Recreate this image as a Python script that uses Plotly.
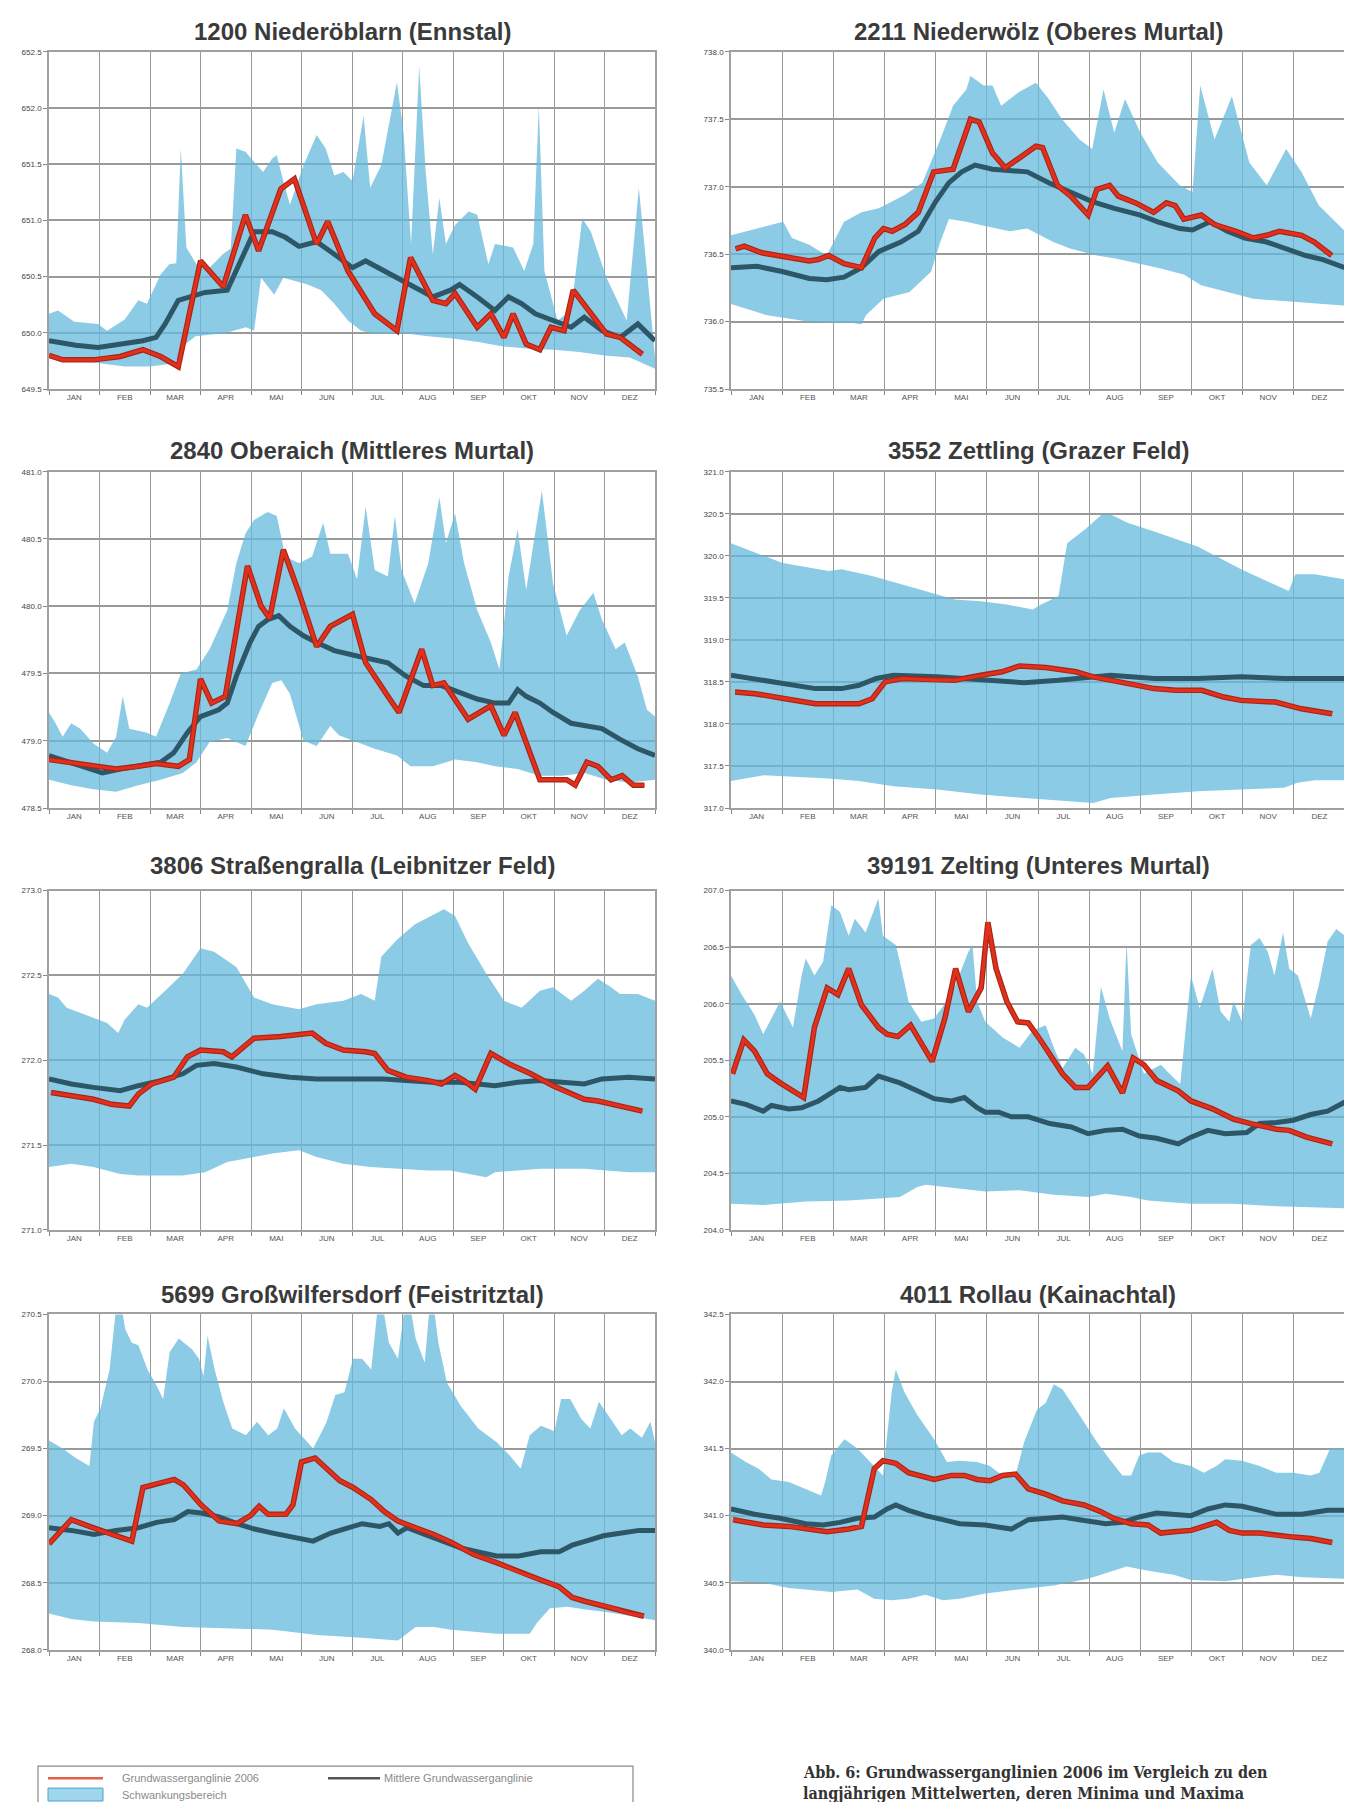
import plotly.graph_objects as go

W, H = 1352, 1802

MONTHS = ["JAN", "FEB", "MAR", "APR", "MAI", "JUN", "JUL", "AUG", "SEP", "OKT", "NOV", "DEZ"]

TITLES = [
    "1200 Niederöblarn (Ennstal)",
    "2211 Niederwölz (Oberes Murtal)",
    "2840 Oberaich (Mittleres Murtal)",
    "3552 Zettling (Grazer Feld)",
    "3806 Straßengralla (Leibnitzer Feld)",
    "39191 Zelting (Unteres Murtal)",
    "5699 Großwilfersdorf (Feistritztal)",
    "4011 Rollau (Kainachtal)",
]

Y_RANGES = [
    (649.5, 652.5), (735.5, 738.0), (478.5, 481.0), (317.0, 321.0),
    (271.0, 273.0), (204.0, 207.0), (268.0, 270.5), (340.0, 342.5),
]

# x values are in months (0 = 1 Jan, 12 = 31 Dec)
# ---------------- 1200 Niederöblarn ----------------
P1_MAX_X = [0, 0.18, 0.5, 0.97, 1.15, 1.5, 1.77, 1.94, 2.21, 2.38, 2.52, 2.61, 2.72, 2.92, 3.18, 3.44, 3.6, 3.71, 3.89, 4.06, 4.24, 4.42, 4.51, 4.64, 4.77, 5.04, 5.3, 5.48, 5.65, 5.83, 6.01, 6.23, 6.36, 6.58, 6.8, 6.89, 7.02, 7.17, 7.33, 7.46, 7.6, 7.73, 7.86, 8.04, 8.31, 8.48, 8.7, 8.83, 9.19, 9.41, 9.59, 9.7, 9.81, 10.07, 10.34, 10.56, 10.73, 11.04, 11.44, 11.68, 11.84, 12]
P1_MAX = [650.17, 650.20, 650.10, 650.08, 650.02, 650.12, 650.29, 650.26, 650.52, 650.61, 650.62, 651.64, 650.76, 650.61, 650.58, 650.70, 650.75, 651.64, 651.61, 651.52, 651.43, 651.55, 651.58, 651.35, 651.14, 651.49, 651.76, 651.64, 651.40, 651.43, 651.35, 651.93, 651.29, 651.49, 652.02, 652.23, 651.79, 650.79, 652.37, 651.43, 650.70, 651.20, 650.79, 650.96, 651.08, 651.05, 650.61, 650.79, 650.76, 650.55, 650.79, 652.02, 650.55, 650.11, 650.20, 651.02, 650.90, 650.49, 650.11, 651.29, 650.55, 649.78]
P1_MIN_X = [0, 0.5, 1.0, 1.5, 2.0, 2.5, 2.7, 2.9, 3.5, 3.9, 4.06, 4.2, 4.46, 4.64, 4.86, 5.12, 5.39, 5.65, 5.92, 6.18, 6.45, 7.0, 7.5, 8.0, 8.5, 9.0, 9.5, 10.0, 10.5, 11.0, 11.5, 12]
P1_MIN = [649.79, 649.76, 649.73, 649.70, 649.70, 649.73, 649.90, 649.97, 650.00, 650.05, 650.02, 650.49, 650.34, 650.49, 650.46, 650.43, 650.38, 650.26, 650.11, 650.02, 649.99, 650.00, 649.97, 649.95, 649.92, 649.88, 649.86, 649.85, 649.83, 649.80, 649.78, 649.68]
P1_MEAN_X = [0, 0.53, 0.97, 1.41, 1.86, 2.12, 2.3, 2.56, 2.83, 3.09, 3.53, 3.89, 4.06, 4.42, 4.68, 4.95, 5.3, 5.65, 6.01, 6.27, 6.63, 6.89, 7.24, 7.6, 7.95, 8.13, 8.48, 8.83, 9.1, 9.36, 9.63, 9.81, 10.07, 10.34, 10.6, 10.95, 11.31, 11.66, 12]
P1_MEAN = [649.93, 649.89, 649.87, 649.90, 649.93, 649.96, 650.08, 650.29, 650.32, 650.36, 650.38, 650.73, 650.90, 650.90, 650.85, 650.77, 650.81, 650.70, 650.58, 650.64, 650.55, 650.49, 650.41, 650.32, 650.38, 650.43, 650.32, 650.20, 650.32, 650.26, 650.17, 650.14, 650.10, 650.05, 650.14, 650.02, 649.96, 650.08, 649.93]
P1_2006_X = [0, 0.27, 0.88, 1.41, 1.86, 2.21, 2.56, 3.0, 3.45, 3.89, 4.15, 4.59, 4.86, 5.3, 5.52, 5.92, 6.45, 6.89, 7.16, 7.6, 7.86, 8.04, 8.48, 8.75, 9.01, 9.19, 9.45, 9.72, 9.94, 10.2, 10.38, 10.69, 11.04, 11.31, 11.75]
P1_2006 = [649.80, 649.76, 649.76, 649.79, 649.85, 649.79, 649.70, 650.64, 650.41, 651.05, 650.73, 651.28, 651.37, 650.79, 650.99, 650.55, 650.17, 650.02, 650.67, 650.29, 650.26, 650.35, 650.05, 650.17, 649.96, 650.17, 649.90, 649.85, 650.05, 650.02, 650.38, 650.20, 649.99, 649.96, 649.81]

# ---------------- 2211 Niederwölz ----------------
P2_MAX_X = [0, 1.02, 1.19, 1.53, 1.87, 2.04, 2.21, 2.55, 2.89, 3.4, 3.74, 4.09, 4.34, 4.6, 4.68, 4.94, 5.11, 5.28, 5.62, 5.96, 6.21, 6.47, 6.81, 7.06, 7.28, 7.49, 7.7, 8.0, 8.34, 8.77, 9.02, 9.17, 9.45, 9.79, 10.13, 10.47, 10.85, 11.15, 11.49, 12]
P2_MAX = [736.64, 736.74, 736.62, 736.57, 736.49, 736.62, 736.74, 736.81, 736.84, 736.94, 737.03, 737.35, 737.60, 737.72, 737.82, 737.75, 737.75, 737.60, 737.70, 737.77, 737.65, 737.50, 737.35, 737.28, 737.72, 737.40, 737.65, 737.40, 737.18, 737.01, 736.96, 737.75, 737.35, 737.67, 737.18, 737.01, 737.28, 737.11, 736.86, 736.67]
P2_MIN_X = [0, 0.68, 1.53, 2.38, 2.55, 2.64, 2.98, 3.49, 3.91, 4.09, 4.26, 4.6, 4.94, 5.45, 5.79, 6.3, 6.64, 7.15, 7.49, 8.34, 8.85, 9.19, 9.7, 10.21, 10.89, 11.57, 12]
P2_MIN = [736.13, 736.05, 736.00, 735.99, 735.98, 736.05, 736.17, 736.22, 736.37, 736.59, 736.76, 736.74, 736.71, 736.67, 736.69, 736.59, 736.54, 736.49, 736.47, 736.40, 736.35, 736.27, 736.22, 736.17, 736.15, 736.13, 736.12]
P2_MEAN_X = [0, 0.51, 1.02, 1.53, 1.87, 2.21, 2.55, 2.89, 3.32, 3.66, 4.0, 4.26, 4.51, 4.77, 5.11, 5.62, 5.79, 6.21, 6.64, 7.06, 7.49, 8.0, 8.34, 8.77, 9.02, 9.36, 9.7, 10.04, 10.47, 10.89, 11.23, 11.57, 12]
P2_MEAN = [736.40, 736.41, 736.37, 736.32, 736.31, 736.33, 736.40, 736.52, 736.59, 736.67, 736.89, 737.03, 737.11, 737.16, 737.13, 737.12, 737.11, 737.03, 736.96, 736.89, 736.84, 736.79, 736.74, 736.69, 736.68, 736.74, 736.67, 736.62, 736.59, 736.54, 736.49, 736.46, 736.40]
P2_2006_X = [0.09, 0.26, 0.6, 1.53, 1.7, 1.91, 2.21, 2.55, 2.81, 2.98, 3.15, 3.4, 3.66, 3.96, 4.34, 4.68, 4.85, 5.11, 5.36, 5.7, 5.96, 6.09, 6.38, 6.64, 6.98, 7.15, 7.4, 7.57, 7.91, 8.26, 8.51, 8.68, 8.85, 9.19, 9.45, 9.87, 10.21, 10.47, 10.72, 11.15, 11.4, 11.74]
P2_2006 = [736.54, 736.56, 736.51, 736.45, 736.46, 736.49, 736.43, 736.40, 736.62, 736.69, 736.67, 736.72, 736.81, 737.11, 737.13, 737.50, 737.48, 737.25, 737.14, 737.23, 737.30, 737.29, 737.01, 736.93, 736.79, 736.98, 737.01, 736.93, 736.88, 736.81, 736.88, 736.86, 736.76, 736.79, 736.72, 736.67, 736.62, 736.64, 736.67, 736.64, 736.59, 736.49]

# ---------------- 2840 Oberaich ----------------
P3_MAX_X = [0, 0.13, 0.27, 0.44, 0.62, 0.88, 1.15, 1.33, 1.46, 1.59, 1.94, 2.12, 2.39, 2.61, 2.92, 3.18, 3.53, 3.71, 3.89, 4.06, 4.33, 4.51, 4.68, 4.95, 5.21, 5.43, 5.57, 5.92, 6.1, 6.27, 6.45, 6.71, 6.85, 6.98, 7.24, 7.51, 7.73, 7.86, 8.04, 8.22, 8.48, 8.75, 8.92, 9.1, 9.28, 9.45, 9.76, 9.98, 10.25, 10.51, 10.78, 10.95, 11.22, 11.4, 11.66, 11.84, 12]
P3_MAX = [479.21, 479.13, 479.03, 479.13, 479.09, 478.98, 478.91, 479.03, 479.33, 479.09, 479.06, 479.03, 479.28, 479.50, 479.53, 479.68, 479.97, 480.32, 480.54, 480.64, 480.70, 480.67, 480.37, 480.32, 480.37, 480.62, 480.39, 480.39, 480.20, 480.74, 480.27, 480.22, 480.67, 480.27, 480.02, 480.32, 480.81, 480.47, 480.69, 480.32, 479.97, 479.73, 479.53, 480.22, 480.57, 480.12, 480.86, 480.17, 479.78, 479.97, 480.10, 479.90, 479.68, 479.73, 479.48, 479.23, 479.18]
P3_MIN_X = [0, 0.44, 0.88, 1.33, 1.77, 2.21, 2.65, 2.92, 3.18, 3.53, 3.89, 4.15, 4.42, 4.6, 4.77, 5.04, 5.3, 5.57, 5.74, 6.1, 6.45, 6.89, 7.16, 7.6, 8.04, 8.48, 8.83, 9.28, 9.72, 10.16, 10.6, 11.04, 11.49, 12]
P3_MIN = [478.71, 478.67, 478.64, 478.62, 478.67, 478.71, 478.76, 478.84, 478.99, 479.02, 478.96, 479.20, 479.43, 479.45, 479.35, 479.00, 478.96, 479.11, 479.04, 478.99, 478.94, 478.89, 478.81, 478.81, 478.86, 478.84, 478.81, 478.79, 478.74, 478.74, 478.76, 478.71, 478.69, 478.71]
P3_MEAN_X = [0, 0.44, 0.88, 1.06, 1.41, 1.77, 2.21, 2.47, 2.74, 3.0, 3.36, 3.53, 3.71, 3.98, 4.15, 4.33, 4.55, 4.77, 5.04, 5.3, 5.65, 6.1, 6.45, 6.71, 7.07, 7.42, 7.77, 8.13, 8.48, 8.83, 9.1, 9.28, 9.45, 9.72, 9.98, 10.34, 10.69, 10.95, 11.31, 11.66, 12]
P3_MEAN = [478.89, 478.84, 478.79, 478.76, 478.79, 478.81, 478.84, 478.91, 479.06, 479.18, 479.23, 479.28, 479.48, 479.73, 479.85, 479.90, 479.93, 479.85, 479.78, 479.73, 479.67, 479.63, 479.60, 479.58, 479.48, 479.41, 479.41, 479.36, 479.31, 479.28, 479.28, 479.38, 479.33, 479.28, 479.21, 479.13, 479.11, 479.09, 479.01, 478.94, 478.89]
P3_2006_X = [0, 0.88, 1.33, 1.77, 2.12, 2.56, 2.78, 3.0, 3.22, 3.49, 3.93, 4.2, 4.37, 4.64, 4.95, 5.3, 5.57, 6.01, 6.27, 6.71, 6.93, 7.38, 7.6, 7.82, 8.3, 8.75, 9.01, 9.23, 9.72, 10.25, 10.42, 10.65, 10.87, 11.13, 11.35, 11.57, 11.79]
P3_2006 = [478.86, 478.81, 478.79, 478.81, 478.83, 478.81, 478.86, 479.46, 479.28, 479.33, 480.30, 480.00, 479.91, 480.42, 480.10, 479.70, 479.85, 479.94, 479.58, 479.33, 479.21, 479.68, 479.41, 479.43, 479.16, 479.26, 479.04, 479.21, 478.71, 478.71, 478.67, 478.84, 478.81, 478.71, 478.74, 478.67, 478.67]

# ---------------- 3552 Zettling ----------------
P4_MAX_X = [0, 0.98, 1.15, 1.91, 2.16, 2.76, 3.69, 4.37, 4.88, 5.39, 5.9, 6.06, 6.4, 6.57, 6.91, 7.25, 7.42, 7.76, 8.27, 9.12, 9.97, 10.9, 11.03, 11.41, 12]
P4_MAX = [320.15, 319.92, 319.90, 319.82, 319.84, 319.76, 319.60, 319.48, 319.46, 319.42, 319.36, 319.42, 319.52, 320.15, 320.31, 320.49, 320.49, 320.39, 320.29, 320.11, 319.84, 319.58, 319.78, 319.78, 319.72]
P4_MIN_X = [0, 0.64, 1.15, 1.91, 2.5, 3.18, 4.03, 4.88, 5.73, 6.57, 7.08, 7.42, 8.27, 9.12, 9.97, 10.81, 11.07, 11.41, 12]
P4_MIN = [317.32, 317.39, 317.37, 317.35, 317.32, 317.26, 317.22, 317.16, 317.12, 317.08, 317.06, 317.12, 317.16, 317.20, 317.22, 317.24, 317.30, 317.33, 317.33]
P4_MEAN_X = [0, 0.64, 1.15, 1.65, 2.16, 2.5, 2.84, 3.18, 4.03, 4.88, 5.73, 6.4, 7.08, 7.42, 8.27, 9.12, 9.97, 10.81, 12]
P4_MEAN = [318.58, 318.52, 318.48, 318.42, 318.42, 318.46, 318.54, 318.58, 318.56, 318.52, 318.49, 318.52, 318.56, 318.58, 318.54, 318.54, 318.56, 318.54, 318.54]
P4_2006_X = [0.08, 0.47, 1.06, 1.65, 2.16, 2.5, 2.76, 3.01, 3.35, 4.03, 4.37, 4.88, 5.3, 5.64, 6.15, 6.74, 7.08, 7.59, 8.27, 8.69, 9.2, 9.63, 9.97, 10.64, 11.15, 11.75]
P4_2006 = [318.38, 318.36, 318.30, 318.24, 318.24, 318.24, 318.30, 318.50, 318.54, 318.52, 318.52, 318.58, 318.62, 318.69, 318.67, 318.62, 318.56, 318.50, 318.42, 318.40, 318.40, 318.32, 318.28, 318.26, 318.18, 318.12]

# ---------------- 3806 Straßengralla ----------------
P5_MAX_X = [0, 0.18, 0.35, 0.88, 1.15, 1.37, 1.5, 1.77, 1.94, 2.3, 2.65, 3.0, 3.27, 3.71, 4.06, 4.42, 4.95, 5.3, 5.83, 6.18, 6.45, 6.58, 6.89, 7.24, 7.51, 7.82, 8.04, 8.3, 8.66, 9.01, 9.36, 9.72, 9.98, 10.34, 10.6, 10.87, 11.13, 11.31, 11.66, 12]
P5_MAX = [272.39, 272.37, 272.31, 272.25, 272.22, 272.16, 272.24, 272.33, 272.31, 272.41, 272.51, 272.66, 272.64, 272.55, 272.37, 272.33, 272.30, 272.33, 272.35, 272.39, 272.35, 272.61, 272.71, 272.80, 272.84, 272.89, 272.85, 272.69, 272.51, 272.35, 272.31, 272.41, 272.43, 272.35, 272.41, 272.48, 272.43, 272.39, 272.39, 272.35]
P5_MIN_X = [0, 0.44, 0.88, 1.41, 1.77, 2.65, 3.09, 3.53, 4.06, 4.42, 4.95, 5.3, 5.83, 6.36, 6.89, 7.51, 7.95, 8.48, 8.66, 8.83, 9.28, 9.72, 10.6, 11.48, 12]
P5_MIN = [271.37, 271.39, 271.37, 271.33, 271.32, 271.32, 271.34, 271.40, 271.43, 271.45, 271.47, 271.43, 271.39, 271.37, 271.36, 271.35, 271.35, 271.32, 271.31, 271.34, 271.35, 271.36, 271.36, 271.34, 271.34]
P5_MEAN_X = [0, 0.44, 0.88, 1.41, 1.77, 2.21, 2.65, 2.92, 3.27, 3.71, 4.24, 4.77, 5.3, 6.01, 6.63, 7.07, 7.6, 8.13, 8.48, 8.83, 9.28, 9.72, 10.16, 10.6, 10.95, 11.48, 12]
P5_MEAN = [271.89, 271.86, 271.84, 271.82, 271.85, 271.88, 271.92, 271.97, 271.98, 271.96, 271.92, 271.90, 271.89, 271.89, 271.89, 271.88, 271.87, 271.87, 271.86, 271.85, 271.87, 271.88, 271.87, 271.86, 271.89, 271.90, 271.89]
P5_2006_X = [0.04, 0.27, 0.88, 1.24, 1.59, 1.77, 2.03, 2.47, 2.74, 3.0, 3.45, 3.62, 4.06, 4.59, 5.21, 5.48, 5.83, 6.27, 6.45, 6.71, 7.07, 7.51, 7.77, 8.04, 8.22, 8.44, 8.75, 9.1, 9.54, 9.98, 10.34, 10.6, 10.87, 11.31, 11.75]
P5_2006 = [271.81, 271.80, 271.77, 271.74, 271.73, 271.80, 271.86, 271.90, 272.02, 272.06, 272.05, 272.02, 272.13, 272.14, 272.16, 272.10, 272.06, 272.05, 272.04, 271.94, 271.90, 271.88, 271.86, 271.91, 271.88, 271.83, 272.04, 271.98, 271.92, 271.85, 271.80, 271.77, 271.76, 271.73, 271.70]

# ---------------- 39191 Zelting ----------------
P6_MAX_X = [0, 0.21, 0.38, 0.46, 0.63, 0.75, 0.96, 1.21, 1.38, 1.46, 1.63, 1.8, 1.96, 2.13, 2.3, 2.42, 2.63, 2.88, 2.97, 3.22, 3.3, 3.47, 3.72, 3.97, 4.31, 4.64, 4.72, 4.81, 4.97, 5.31, 5.64, 5.89, 6.15, 6.31, 6.48, 6.73, 6.9, 7.07, 7.23, 7.4, 7.65, 7.73, 7.82, 8.07, 8.4, 8.57, 8.78, 8.9, 8.99, 9.16, 9.41, 9.57, 9.74, 9.82, 9.99, 10.16, 10.33, 10.49, 10.62, 10.79, 10.91, 11.08, 11.33, 11.5, 11.66, 11.83, 12]
P6_MAX = [206.25, 206.08, 205.96, 205.90, 205.73, 205.84, 206.02, 205.79, 206.25, 206.40, 206.25, 206.37, 206.87, 206.81, 206.60, 206.75, 206.63, 206.93, 206.60, 206.52, 206.37, 206.02, 205.84, 205.87, 206.08, 206.46, 206.52, 206.02, 205.84, 205.70, 205.61, 205.76, 205.81, 205.61, 205.43, 205.61, 205.55, 205.38, 206.15, 205.87, 205.58, 206.55, 205.73, 205.38, 205.46, 205.38, 205.29, 205.84, 206.25, 205.96, 206.31, 205.93, 205.84, 206.02, 205.84, 206.52, 206.58, 206.46, 206.25, 206.63, 206.31, 206.25, 205.87, 206.19, 206.55, 206.66, 206.60]
P6_MIN_X = [0, 0.63, 1.46, 2.3, 2.97, 3.3, 3.64, 3.8, 4.39, 4.97, 5.64, 6.31, 6.98, 7.32, 7.82, 8.15, 8.99, 9.82, 10.66, 12]
P6_MIN = [204.23, 204.22, 204.25, 204.26, 204.28, 204.29, 204.38, 204.40, 204.37, 204.34, 204.35, 204.31, 204.29, 204.32, 204.29, 204.26, 204.23, 204.23, 204.21, 204.19]
P6_MEAN_X = [0, 0.29, 0.63, 0.79, 1.13, 1.38, 1.71, 2.13, 2.3, 2.63, 2.88, 3.14, 3.3, 3.64, 3.97, 4.31, 4.56, 4.81, 4.97, 5.23, 5.48, 5.81, 6.23, 6.65, 6.98, 7.32, 7.65, 7.98, 8.32, 8.74, 8.99, 9.32, 9.66, 10.08, 10.33, 10.66, 10.99, 11.33, 11.66, 12]
P6_MEAN = [205.14, 205.11, 205.05, 205.10, 205.07, 205.08, 205.14, 205.26, 205.24, 205.26, 205.36, 205.32, 205.30, 205.23, 205.16, 205.14, 205.17, 205.08, 205.04, 205.04, 205.00, 205.00, 204.94, 204.91, 204.85, 204.88, 204.89, 204.83, 204.81, 204.76, 204.82, 204.88, 204.85, 204.86, 204.94, 204.95, 204.97, 205.02, 205.05, 205.13]
P6_2006_X = [0.03, 0.25, 0.46, 0.71, 0.96, 1.21, 1.42, 1.63, 1.88, 2.09, 2.3, 2.55, 2.88, 3.05, 3.26, 3.51, 3.93, 4.18, 4.39, 4.64, 4.89, 5.02, 5.18, 5.39, 5.6, 5.81, 6.06, 6.48, 6.73, 6.98, 7.36, 7.65, 7.86, 8.07, 8.32, 8.74, 8.99, 9.41, 9.82, 10.16, 10.66, 10.91, 11.25, 11.75]
P6_2006 = [205.38, 205.68, 205.58, 205.38, 205.30, 205.23, 205.17, 205.79, 206.14, 206.08, 206.31, 205.99, 205.79, 205.73, 205.71, 205.81, 205.49, 205.87, 206.31, 205.93, 206.14, 206.72, 206.31, 206.02, 205.84, 205.83, 205.67, 205.38, 205.26, 205.26, 205.45, 205.21, 205.52, 205.46, 205.32, 205.23, 205.14, 205.07, 204.98, 204.94, 204.89, 204.88, 204.82, 204.76]

# ---------------- 5699 Großwilfersdorf ----------------
P7_MAX_X = [0, 0.27, 0.53, 0.8, 0.89, 1.02, 1.2, 1.37, 1.51, 1.64, 1.77, 1.95, 2.13, 2.26, 2.39, 2.57, 2.83, 2.97, 3.06, 3.14, 3.28, 3.45, 3.63, 3.9, 4.12, 4.34, 4.52, 4.65, 4.87, 5.23, 5.49, 5.67, 5.85, 6.02, 6.2, 6.38, 6.55, 6.73, 6.91, 7.09, 7.26, 7.44, 7.57, 7.71, 7.88, 8.15, 8.5, 8.86, 9.12, 9.34, 9.52, 9.74, 10.01, 10.14, 10.32, 10.54, 10.72, 10.89, 11.07, 11.34, 11.51, 11.74, 11.91, 12]
P7_MAX = [269.56, 269.50, 269.43, 269.37, 269.70, 269.80, 270.09, 270.70, 270.39, 270.29, 270.27, 270.09, 269.97, 269.87, 270.22, 270.32, 270.24, 270.17, 270.04, 270.34, 270.09, 269.85, 269.65, 269.60, 269.70, 269.60, 269.65, 269.80, 269.65, 269.50, 269.69, 269.90, 269.92, 270.17, 270.17, 270.09, 270.70, 270.29, 270.17, 270.70, 270.32, 270.14, 270.70, 270.29, 269.99, 269.82, 269.65, 269.55, 269.45, 269.35, 269.60, 269.67, 269.63, 269.87, 269.87, 269.72, 269.65, 269.85, 269.75, 269.60, 269.65, 269.58, 269.70, 269.55]
P7_MIN_X = [0, 0.44, 0.89, 1.77, 2.66, 3.54, 4.43, 5.31, 6.2, 6.91, 7.09, 7.26, 7.62, 7.97, 8.86, 9.52, 9.66, 9.92, 10.27, 10.63, 11.07, 11.51, 12]
P7_MIN = [268.27, 268.23, 268.21, 268.20, 268.17, 268.16, 268.15, 268.11, 268.09, 268.07, 268.12, 268.17, 268.17, 268.15, 268.12, 268.12, 268.20, 268.31, 268.32, 268.30, 268.28, 268.25, 268.22]
P7_MEAN_X = [0, 0.44, 0.89, 1.33, 1.77, 2.13, 2.48, 2.75, 3.01, 3.37, 3.72, 4.07, 4.43, 4.78, 5.23, 5.58, 5.93, 6.2, 6.55, 6.73, 6.91, 7.09, 7.44, 7.79, 8.15, 8.5, 8.86, 9.3, 9.74, 10.1, 10.36, 10.63, 10.98, 11.34, 11.69, 12]
P7_MEAN = [268.91, 268.89, 268.86, 268.89, 268.91, 268.95, 268.97, 269.03, 269.02, 268.99, 268.94, 268.90, 268.87, 268.84, 268.81, 268.87, 268.91, 268.94, 268.92, 268.94, 268.87, 268.91, 268.86, 268.81, 268.76, 268.73, 268.70, 268.70, 268.73, 268.73, 268.78, 268.81, 268.85, 268.87, 268.89, 268.89]
P7_2006_X = [0, 0.44, 0.8, 1.15, 1.64, 1.86, 2.13, 2.48, 2.66, 3.01, 3.37, 3.72, 3.99, 4.16, 4.34, 4.69, 4.83, 5.0, 5.27, 5.49, 5.76, 6.02, 6.38, 6.64, 6.91, 7.26, 7.62, 7.97, 8.41, 8.86, 9.3, 9.74, 10.1, 10.36, 10.63, 11.07, 11.51, 11.78]
P7_2006 = [268.79, 268.97, 268.92, 268.87, 268.81, 269.21, 269.24, 269.27, 269.23, 269.08, 268.96, 268.94, 269.00, 269.07, 269.01, 269.01, 269.08, 269.40, 269.43, 269.35, 269.26, 269.21, 269.12, 269.03, 268.96, 268.91, 268.86, 268.80, 268.71, 268.65, 268.58, 268.52, 268.47, 268.39, 268.36, 268.32, 268.27, 268.25]

# ---------------- 4011 Rollau ----------------
P8_MAX_X = [0, 0.29, 0.54, 0.79, 1.13, 1.46, 1.76, 1.84, 1.96, 2.22, 2.47, 2.72, 2.97, 3.14, 3.22, 3.39, 3.64, 3.97, 4.22, 4.47, 4.81, 5.06, 5.23, 5.56, 5.73, 5.98, 6.15, 6.31, 6.48, 6.81, 7.15, 7.4, 7.65, 7.82, 7.98, 8.15, 8.4, 8.65, 8.99, 9.24, 9.49, 9.66, 9.99, 10.33, 10.66, 10.99, 11.33, 11.5, 11.71, 12]
P8_MAX = [341.47, 341.40, 341.35, 341.27, 341.25, 341.20, 341.15, 341.25, 341.45, 341.57, 341.50, 341.40, 341.30, 341.92, 342.09, 341.92, 341.75, 341.57, 341.40, 341.41, 341.40, 341.37, 341.32, 341.30, 341.55, 341.79, 341.84, 341.98, 341.94, 341.75, 341.55, 341.42, 341.30, 341.30, 341.45, 341.47, 341.47, 341.40, 341.37, 341.32, 341.37, 341.42, 341.41, 341.37, 341.32, 341.32, 341.30, 341.32, 341.50, 341.50]
P8_MIN_X = [0, 0.63, 1.13, 1.46, 1.96, 2.47, 2.8, 3.14, 3.47, 3.8, 4.14, 4.47, 4.97, 5.64, 6.31, 6.98, 7.32, 7.73, 8.15, 8.65, 8.99, 9.66, 10.24, 10.66, 11.16, 12]
P8_MIN = [340.51, 340.50, 340.46, 340.45, 340.43, 340.45, 340.38, 340.37, 340.38, 340.41, 340.37, 340.38, 340.42, 340.45, 340.48, 340.53, 340.57, 340.62, 340.59, 340.56, 340.52, 340.51, 340.54, 340.56, 340.54, 340.53]
P8_MEAN_X = [0, 0.46, 0.96, 1.46, 1.8, 2.13, 2.47, 2.8, 3.05, 3.22, 3.47, 3.8, 4.14, 4.47, 4.97, 5.48, 5.81, 6.15, 6.48, 6.81, 7.32, 7.65, 7.98, 8.32, 8.65, 8.99, 9.32, 9.66, 9.99, 10.33, 10.66, 11.16, 11.66, 12]
P8_MEAN = [341.05, 341.01, 340.98, 340.94, 340.93, 340.95, 340.98, 340.99, 341.05, 341.08, 341.04, 341.00, 340.97, 340.94, 340.93, 340.90, 340.97, 340.98, 340.99, 340.97, 340.94, 340.95, 340.99, 341.02, 341.01, 341.00, 341.05, 341.08, 341.07, 341.04, 341.01, 341.01, 341.04, 341.04]
P8_2006_X = [0.04, 0.63, 1.13, 1.46, 1.88, 2.3, 2.55, 2.8, 2.97, 3.22, 3.47, 3.97, 4.31, 4.56, 4.81, 5.06, 5.31, 5.56, 5.81, 6.15, 6.48, 6.9, 7.23, 7.48, 7.82, 8.15, 8.4, 8.65, 8.99, 9.24, 9.49, 9.74, 9.99, 10.33, 10.66, 10.99, 11.33, 11.75]
P8_2006 = [340.97, 340.93, 340.92, 340.90, 340.88, 340.90, 340.92, 341.35, 341.41, 341.39, 341.32, 341.27, 341.30, 341.30, 341.27, 341.26, 341.30, 341.31, 341.20, 341.16, 341.11, 341.08, 341.03, 340.98, 340.94, 340.93, 340.87, 340.88, 340.89, 340.92, 340.95, 340.89, 340.87, 340.87, 340.85, 340.84, 340.83, 340.80]

PANELS = [
    (P1_MAX_X, P1_MAX, P1_MIN_X, P1_MIN, P1_MEAN_X, P1_MEAN, P1_2006_X, P1_2006),
    (P2_MAX_X, P2_MAX, P2_MIN_X, P2_MIN, P2_MEAN_X, P2_MEAN, P2_2006_X, P2_2006),
    (P3_MAX_X, P3_MAX, P3_MIN_X, P3_MIN, P3_MEAN_X, P3_MEAN, P3_2006_X, P3_2006),
    (P4_MAX_X, P4_MAX, P4_MIN_X, P4_MIN, P4_MEAN_X, P4_MEAN, P4_2006_X, P4_2006),
    (P5_MAX_X, P5_MAX, P5_MIN_X, P5_MIN, P5_MEAN_X, P5_MEAN, P5_2006_X, P5_2006),
    (P6_MAX_X, P6_MAX, P6_MIN_X, P6_MIN, P6_MEAN_X, P6_MEAN, P6_2006_X, P6_2006),
    (P7_MAX_X, P7_MAX, P7_MIN_X, P7_MIN, P7_MEAN_X, P7_MEAN, P7_2006_X, P7_2006),
    (P8_MAX_X, P8_MAX, P8_MIN_X, P8_MIN, P8_MEAN_X, P8_MEAN, P8_2006_X, P8_2006),
]

# ---------------- styling / layout (pixels of the 1352x1802 page) ----------------
BAND_FILL = "rgba(100,185,220,0.75)"
MEAN_COLOR = "#2d5667"
RED_EDGE = "#a52617"
RED_COLOR = "#e2301c"
GRID = "#9a9a9a"
FONT = "Liberation Sans, Arial, sans-serif"

COL_X = [(41, 647), (723, 1337)]
ROW_Y = [(40, 379), (462, 800), (883, 1224), (1309, 1646)]
TITLE_Y = [20, 441, 858, 1289]

fig = go.Figure()
layout = {}
annotations = []

for i, (mx, my, nx, ny, ax, ay, rx, ry) in enumerate(PANELS):
    for a, b in ((mx, my), (nx, ny), (ax, ay), (rx, ry)):
        assert len(a) == len(b), (i, len(a), len(b))
    n = i + 1
    sfx = "" if n == 1 else str(n)
    r, c = divmod(i, 2)
    x0, x1 = COL_X[c]
    y0, y1 = ROW_Y[r]
    lo, hi = Y_RANGES[i]

    layout["xaxis" + sfx] = dict(
        domain=[x0 / W, x1 / W], anchor="y" + sfx, range=[0, 12],
        tickmode="array", tickvals=[k + 0.5 for k in range(12)], ticktext=MONTHS,
        ticks="", showgrid=False, zeroline=False,
        minor=dict(tickmode="array", tickvals=list(range(13)), showgrid=True,
                   gridcolor=GRID, gridwidth=1, ticks="outside", ticklen=4, tickcolor="#888"),
        showline=True, linecolor="#a0a0a0", linewidth=1.5, mirror=True,
        tickfont=dict(size=8, color="#555", family=FONT), fixedrange=True,
    )
    layout["yaxis" + sfx] = dict(
        domain=[1 - y1 / H, 1 - y0 / H], anchor="x" + sfx, range=[lo, hi],
        tickmode="linear", tick0=lo, dtick=0.5, tickformat=".1f",
        showgrid=True, gridcolor=GRID, gridwidth=1.5, zeroline=False,
        ticks="outside", ticklen=4, tickcolor="#888",
        showline=True, linecolor="#a0a0a0", linewidth=1.5, mirror=True,
        tickfont=dict(size=8, color="#444", family=FONT), fixedrange=True,
    )

    xref, yref = "x" + sfx, "y" + sfx
    fig.add_trace(go.Scatter(
        x=list(mx) + list(nx)[::-1], y=list(my) + list(ny)[::-1],
        fill="toself", fillcolor=BAND_FILL, mode="lines", line=dict(width=0),
        xaxis=xref, yaxis=yref, showlegend=False, hoverinfo="skip",
        name="Schwankungsbereich"))
    fig.add_trace(go.Scatter(
        x=ax, y=ay, mode="lines", line=dict(color=MEAN_COLOR, width=5),
        xaxis=xref, yaxis=yref, showlegend=False, name="Mittlere Grundwasserganglinie"))
    fig.add_trace(go.Scatter(
        x=rx, y=ry, mode="lines", line=dict(color=RED_EDGE, width=5.5),
        xaxis=xref, yaxis=yref, showlegend=False, hoverinfo="skip", name="2006 edge"))
    fig.add_trace(go.Scatter(
        x=rx, y=ry, mode="lines", line=dict(color=RED_COLOR, width=3.2),
        xaxis=xref, yaxis=yref, showlegend=False, name="Grundwasserganglinie 2006"))

    annotations.append(dict(
        text="<b>" + TITLES[i] + "</b>", xref="paper", yref="paper",
        x=(x0 + x1) / 2 / W, y=1 - TITLE_Y[r] / H, xanchor="center", yanchor="middle",
        showarrow=False, font=dict(size=24, color="#3a3a3a", family=FONT)))

# ---------------- legend box (bottom left) ----------------
def px(x):
    return x / W


def py(y):
    return 1 - y / H


shapes = [
    dict(type="rect", xref="paper", yref="paper", x0=px(30), x1=px(625), y0=py(1801), y1=py(1763),
         line=dict(color="#8a8a8a", width=1.2), fillcolor="white", layer="above"),
    dict(type="line", xref="paper", yref="paper", x0=px(40), x1=px(95), y0=py(1775), y1=py(1775),
         line=dict(color="#e0604c", width=2.5)),
    dict(type="line", xref="paper", yref="paper", x0=px(320), x1=px(372), y0=py(1775), y1=py(1775),
         line=dict(color="#555", width=2.5)),
    dict(type="rect", xref="paper", yref="paper", x0=px(40), x1=px(95), y0=py(1798), y1=py(1785),
         line=dict(color="#4aa3c9", width=1), fillcolor="#9fd6ec"),
]
LEGEND_FONT = dict(size=11, color="#8a8a8a", family=FONT)
annotations += [
    dict(text="Grundwasserganglinie 2006", xref="paper", yref="paper", x=px(112), y=py(1775),
         xanchor="left", yanchor="middle", showarrow=False, font=LEGEND_FONT),
    dict(text="Mittlere Grundwasserganglinie", xref="paper", yref="paper", x=px(374), y=py(1775),
         xanchor="left", yanchor="middle", showarrow=False, font=LEGEND_FONT),
    dict(text="Schwankungsbereich", xref="paper", yref="paper", x=px(112), y=py(1792),
         xanchor="left", yanchor="middle", showarrow=False, font=LEGEND_FONT),
]

# ---------------- caption (bottom right) ----------------
CAP_FONT = dict(size=16, color="#333", family="DejaVu Serif Condensed, DejaVu Serif, serif")
annotations += [
    dict(text="<b>Abb. 6: Grundwasserganglinien 2006 im Vergleich zu den</b>", xref="paper", yref="paper",
         x=px(793), y=py(1769), xanchor="left", yanchor="middle", showarrow=False, font=CAP_FONT),
    dict(text="<b>langjährigen Mittelwerten, deren Minima und Maxima</b>", xref="paper", yref="paper",
         x=px(793), y=py(1790), xanchor="left", yanchor="middle", showarrow=False, font=CAP_FONT),
]

fig.update_layout(
    width=W, height=H, margin=dict(l=0, r=0, t=0, b=0),
    paper_bgcolor="white", plot_bgcolor="white", showlegend=False,
    annotations=annotations, shapes=shapes, font=dict(family=FONT),
    **layout,
)

fig.write_html("out.html", config={"displayModeBar": False})
